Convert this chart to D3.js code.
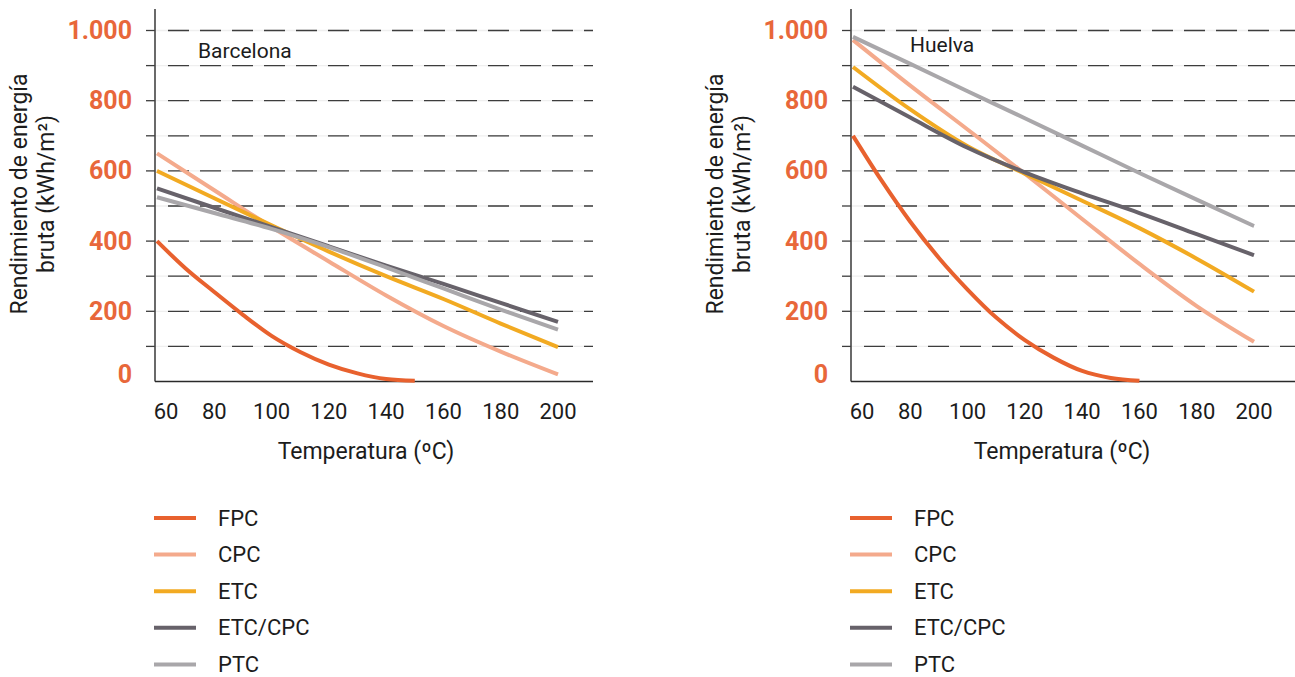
<!DOCTYPE html>
<html>
<head>
<meta charset="utf-8">
<script src="https://cdn.jsdelivr.net/npm/d3@7"></script>
<style>
  html, body { margin: 0; padding: 0; background: #ffffff; }
  svg { display: block; font-family: Roboto, "Liberation Sans", Arial, sans-serif; }
</style>
</head>
<body>
<svg id="chart" width="1295" height="677"></svg>
<script>
// ---------------- DATA ----------------
const temps = [60, 80, 100, 120, 140, 160, 180, 200];
const xTickLabels = [60, 80, 100, 120, 140, 160, 180, 200];
const yTickLabels = [0, 200, 400, 600, 800, 1000];
const gridValues = [100, 200, 300, 400, 500, 600, 700, 800, 900, 1000];
const seriesNames = ["FPC", "CPC", "ETC", "ETC/CPC", "PTC"];
const seriesColors = ["#E8612E", "#F4AA8C", "#F2AA22", "#67626A", "#A9A7AA"];

// Barcelona
const fpcTempsBcn = [60, 70, 80, 90, 100, 110, 120, 130, 140, 150];
const fpcBcn    = [400, 322, 255, 190, 130, 84, 48, 23, 7, 2];
const cpcBcn    = [650, 545, 440, 342, 245, 158, 85, 20];
const etcBcn    = [600, 522, 445, 370, 300, 235, 165, 98];
const etcCpcBcn = [550, 495, 440, 385, 330, 278, 224, 170];
const ptcBcn    = [525, 480, 435, 383, 325, 265, 205, 148];

// Huelva
const fpcTempsHue = [60, 70, 80, 90, 100, 110, 120, 130, 140, 150, 160];
const fpcHue    = [700, 572, 455, 352, 262, 182, 118, 68, 30, 10, 2];
const cpcHue    = [973, 843, 718, 592, 463, 335, 215, 113];
const etcHue    = [896, 775, 670, 592, 515, 437, 350, 256];
const etcCpcHue = [840, 752, 666, 596, 536, 480, 420, 360];
const ptcHue    = [982, 905, 827, 750, 672, 594, 518, 443];

const yTitle1 = "Rendimiento de energía";
const yTitle2 = "bruta (kWh/m²)";
const xTitle = "Temperatura (ºC)";

// ---------------- DRAW ----------------
const svg = d3.select("#chart");
const orange = "#E8673A";
const textColor = "#1c1c1c";

function drawPanel(ox, city, cityPos, fpcT, fpc, cpc, etc, etcCpc, ptc, gridEnd) {
  const g = svg.append("g");
  const axisX = 155 + ox;
  const x = d3.scaleLinear().domain([60, 200]).range([157 + ox, 558 + ox]);
  const y = d3.scaleLinear().domain([0, 1000]).range([381.5, 30.5]);

  // faint solid underlay of gridlines
  g.selectAll(".gu").data(gridValues).enter().append("line")
    .attr("x1", axisX).attr("x2", gridEnd)
    .attr("y1", d => y(d)).attr("y2", d => y(d))
    .attr("stroke", "#efefef").attr("stroke-width", 1.3);
  // dashed grid
  g.selectAll(".gd").data(gridValues).enter().append("line")
    .attr("x1", axisX + 13).attr("x2", gridEnd)
    .attr("y1", d => y(d)).attr("y2", d => y(d))
    .attr("stroke", "#3d3d3d").attr("stroke-width", 1.3)
    .attr("stroke-dasharray", "21,11");
  // tick stubs
  g.selectAll(".gt").data(gridValues).enter().append("line")
    .attr("x1", axisX - 9).attr("x2", axisX)
    .attr("y1", d => y(d)).attr("y2", d => y(d))
    .attr("stroke", "#3d3d3d").attr("stroke-width", 1.3);

  // axes lines
  g.append("line").attr("x1", axisX).attr("x2", axisX).attr("y1", 9).attr("y2", y(0))
    .attr("stroke", "#444").attr("stroke-width", 1.6);
  g.append("line").attr("x1", axisX).attr("x2", gridEnd).attr("y1", y(0)).attr("y2", y(0))
    .attr("stroke", "#2a2a2a").attr("stroke-width", 1.6);

  // y tick labels
  const fmt = d => d >= 1000 ? d3.format(",")(d).replace(",", ".") : String(d);
  g.selectAll(".yl").data(yTickLabels).enter().append("text")
    .attr("x", axisX - 23).attr("y", d => y(d) + (d === 0 ? -7 : 0))
    .attr("text-anchor", "end").attr("dominant-baseline", "central")
    .attr("font-size", 25).attr("font-weight", 700).attr("fill", orange)
    .text(fmt);

  // x tick labels
  g.selectAll(".xl").data(xTickLabels).enter().append("text")
    .attr("x", d => x(d) + (d === 60 ? 9 : 0)).attr("y", 411)
    .attr("text-anchor", "middle").attr("dominant-baseline", "central")
    .attr("font-size", 22).attr("fill", textColor)
    .text(d => d);

  // x title
  g.append("text").attr("x", 366 + ox).attr("y", 451)
    .attr("text-anchor", "middle").attr("dominant-baseline", "central")
    .attr("font-size", 23).attr("fill", textColor).text(xTitle);

  // y title (two lines, rotated)
  const yt = g.append("text")
    .attr("transform", `translate(${ox + 32},194) rotate(-90)`)
    .attr("text-anchor", "middle").attr("font-size", 23).attr("fill", textColor);
  yt.append("tspan").attr("x", 0).attr("y", -5).text(yTitle1);
  yt.append("tspan").attr("x", 0).attr("y", 22).text(yTitle2);

  // city label
  g.append("text").attr("x", cityPos[0] + ox).attr("y", cityPos[1])
    .attr("font-size", 21).attr("fill", textColor).text(city);

  // lines
  const line = d3.line().x(d => x(d[0])).y(d => y(d[1])).curve(d3.curveMonotoneX);
  const sets = [
    [fpcT, fpc, 0],
    [temps, cpc, 1],
    [temps, etc, 2],
    [temps, etcCpc, 3],
    [temps, ptc, 4]
  ];
  const order = [1, 2, 3, 4, 0];
  order.forEach(i => {
    const s = sets[i];
    const pts = s[0].map((t, k) => [t, s[1][k]]);
    g.append("path").attr("d", line(pts))
      .attr("fill", "none").attr("stroke", seriesColors[s[2]])
      .attr("stroke-width", 4).attr("stroke-linejoin", "round");
  });

  // legend
  const lg = g.append("g");
  seriesNames.forEach((name, i) => {
    const ly = 518 + i * 36.6;
    lg.append("line").attr("x1", 154 + ox).attr("x2", 196 + ox)
      .attr("y1", ly).attr("y2", ly)
      .attr("stroke", seriesColors[i]).attr("stroke-width", 4);
    lg.append("text").attr("x", 218 + ox).attr("y", ly)
      .attr("dominant-baseline", "central")
      .attr("font-size", 22).attr("fill", textColor).text(name);
  });
}

drawPanel(0, "Barcelona", [198, 58], fpcTempsBcn, fpcBcn, cpcBcn, etcBcn, etcCpcBcn, ptcBcn, 593);
drawPanel(696, "Huelva", [214, 52], fpcTempsHue, fpcHue, cpcHue, etcHue, etcCpcHue, ptcHue, 1295);
</script>
</body>
</html>
